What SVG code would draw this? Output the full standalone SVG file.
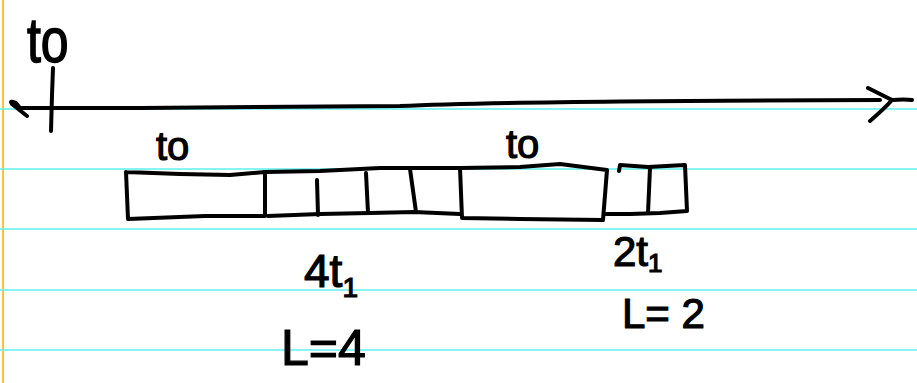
<svg xmlns="http://www.w3.org/2000/svg" width="917" height="383" viewBox="0 0 917 383">
<style>
.rule{stroke:#5ff0f0;stroke-width:1.5}
.ink{fill:none;stroke:#000;stroke-width:4;stroke-linecap:round;stroke-linejoin:round}
.txt{font-family:"Liberation Sans",Arial,sans-serif;fill:#000;stroke:#000;stroke-width:1.2}
</style>
<rect width="917" height="383" fill="#fff"/>
<g id="paper">
<line x1="3" y1="0" x2="3" y2="383" stroke="#f5c242" stroke-width="2"/>
<line class="rule" x1="0" y1="109" x2="917" y2="109"/>
<line class="rule" x1="0" y1="169" x2="917" y2="169"/>
<line class="rule" x1="0" y1="229" x2="917" y2="229"/>
<line class="rule" x1="0" y1="290" x2="917" y2="290"/>
<line class="rule" x1="0" y1="350" x2="917" y2="350"/>
</g>
<g id="axis">
<path class="ink" d="M27,116 L12,104 Q9,100 16,103 L20,108 L140,108 L400,106 Q500,101 880,100 M868,88 Q880,94 892,100 Q905,99 912,100 M892,100 Q885,108 870,121"/>
<path class="ink" d="M53,68 L52,95 L51,131"/>
<text class="txt" x="27" y="62" font-size="50" transform="translate(27 62) scale(1 1.25) translate(-27 -62)">to</text>
</g>
<g id="connectors">
</g>
<g id="block-t0-a">
<path class="ink" d="M126,172 L180,174 L230,175 L265,172 L265,216 L205,216 L128,219 L126,172"/>
<text class="txt" x="156" y="160" font-size="40">to</text>
</g>
<g id="cells-4">
<path class="ink" d="M265,172 L320,171 L380,168 L460,168 M460,214 L414,212 L370,213 L320,214 L268,216"/>
<path class="ink" d="M317,180 L318,215"/>
<path class="ink" d="M366,173 L368,213"/>
<path class="ink" d="M410,169 L416,212"/>
</g>
<g id="block-t0-b">
<path class="ink" d="M460,168 L520,167 L560,164 L607,170 L603,220 L520,219 L462,218 L460,168"/>
<text class="txt" x="506" y="158" font-size="40">to</text>
</g>
<g id="cells-2">
<path class="ink" d="M619,171 L620,165 L648,167 L685,165 L687,211 L660,213 L630,214 L606,214"/>
<path class="ink" d="M650,168 L648,213"/>
</g>
<g id="labels">
<text class="txt" x="304" y="287" font-size="46">4t<tspan font-size="28" dy="10">1</tspan></text>
<text class="txt" x="281" y="365" font-size="50">L=4</text>
<text class="txt" x="613" y="266" font-size="42">2t<tspan font-size="26" dy="6">1</tspan></text>
<text class="txt" x="622" y="328" font-size="42">L= 2</text>
</g>
</svg>
